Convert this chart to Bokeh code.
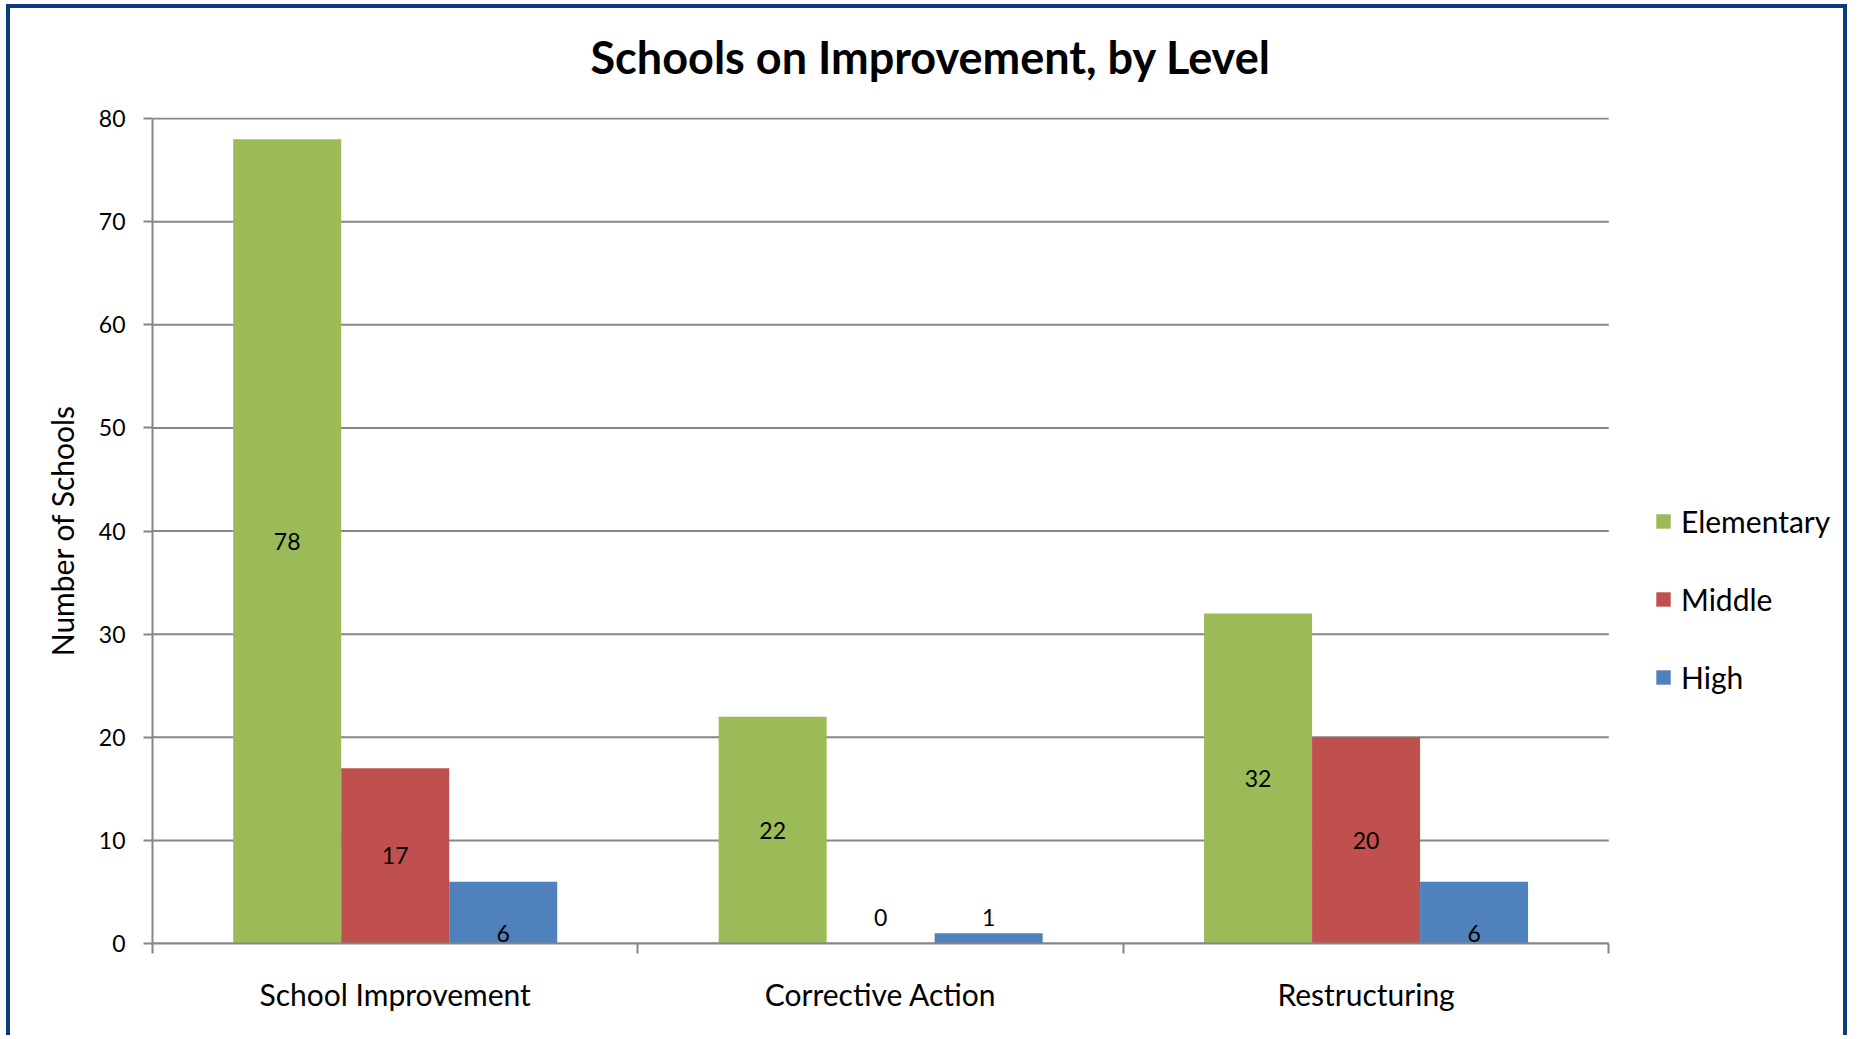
from bokeh.plotting import figure
from bokeh.models import (Range1d, FixedTicker, ColumnDataSource, Legend,
                          LegendItem, Title, LinearAxis)
from bokeh.transform import dodge
from bokeh.core.properties import value
from bokeh.embed import file_html
from bokeh.resources import INLINE

# ---- data ----
categories = ["School Improvement", "Corrective Action", "Restructuring"]
series_names = ["Elementary", "Middle", "High"]
elementary = [78, 22, 32]
middle = [17, 0, 20]
high = [6, 1, 6]
y_ticks = [0, 10, 20, 30, 40, 50, 60, 70, 80]
title_text = "Schools on Improvement, by Level"
y_title = "Number of Schools"

FONT = "Lato"
GRID = "#868686"
colors = {"Elementary": "#9BBB59", "Middle": "#C0504D", "High": "#4F81BD"}

n_cat = len(categories)
x_center = [i + 0.5 for i in range(n_cat)]
x_bounds = [float(i) for i in range(n_cat + 1)]
y_axis_max = y_ticks[-1]


def center_label(v):
    return max(v / 2.0, 2.5)


def base_label(v):
    return 1.0 if v >= 3 else 2.5


src = ColumnDataSource(dict(
    xc=x_center,
    Elementary=elementary,
    Middle=middle,
    High=high,
    Elementary_txt=[str(v) for v in elementary],
    Middle_txt=[str(v) for v in middle],
    High_txt=[str(v) for v in high],
    Elementary_ly=[center_label(v) for v in elementary],
    Middle_ly=[center_label(v) for v in middle],
    High_ly=[base_label(v) for v in high],
))
grid_src = ColumnDataSource(dict(y=y_ticks, x0=[0] * len(y_ticks),
                                 x1=[n_cat] * len(y_ticks)))

# frame spans to the right edge so the legend is inside it
p = figure(width=1841, height=1031, output_backend="svg", toolbar_location=None,
           x_range=Range1d(0, 3.5), y_range=Range1d(0, y_axis_max + 0.1),
           min_border_left=142, min_border_right=0,
           min_border_top=109, min_border_bottom=96,
           background_fill_color="white", border_fill_color="white")
p.title = None
p.outline_line_color = None
p.xgrid.grid_line_color = None
p.ygrid.grid_line_color = None

# horizontal gridlines across the category area only
p.segment(x0="x0", x1="x1", y0="y", y1="y", source=grid_src,
          line_color=GRID, line_width=2)

bw = 0.2225
offsets = {"Elementary": -bw, "Middle": 0.0, "High": bw}
renderers = {}
for s in series_names:
    r = p.vbar(x=dodge("xc", offsets[s], range=p.x_range), top=s, width=bw,
               bottom=0, source=src, fill_color=colors[s], line_color=None)
    renderers[s] = r
    p.text(x=dodge("xc", offsets[s], range=p.x_range), y=s + "_ly",
           text=s + "_txt", source=src, text_align="center",
           text_baseline="middle", text_font=value(FONT),
           text_font_size="23px", text_color="black")

# axes
xa = p.xaxis[0]
xa.bounds = (0, n_cat)
xa.ticker = FixedTicker(ticks=x_center, minor_ticks=x_bounds)
xa.major_label_overrides = {x_center[i]: categories[i] for i in range(n_cat)}
xa.major_tick_out = 0
xa.major_tick_in = 0
xa.minor_tick_out = 10
xa.minor_tick_in = 0
xa.minor_tick_line_color = GRID
xa.minor_tick_line_width = 2
xa.axis_line_color = GRID
xa.axis_line_width = 2
xa.major_label_text_font = FONT
xa.major_label_text_font_size = "30px"
xa.major_label_text_color = "black"
xa.major_label_standoff = 22

ya = p.yaxis[0]
ya.bounds = (0, y_axis_max)
ya.ticker = FixedTicker(ticks=y_ticks)
ya.major_tick_out = 9
ya.major_tick_in = 0
ya.minor_tick_line_color = None
ya.major_tick_line_color = GRID
ya.major_tick_line_width = 2
ya.axis_line_color = GRID
ya.axis_line_width = 2
ya.major_label_text_font = FONT
ya.major_label_text_font_size = "23px"
ya.major_label_text_color = "black"
ya.major_label_standoff = 18
ya.axis_label = y_title
ya.axis_label_text_font = FONT
ya.axis_label_text_font_size = "30px"
ya.axis_label_text_font_style = "normal"
ya.axis_label_text_color = "black"
ya.axis_label_standoff = 16

# invisible spacer between the frame and the title (inner "above" panel)
spacer = LinearAxis(ticker=FixedTicker(ticks=[1.5]), major_tick_out=33,
                    major_tick_in=0, minor_tick_out=0, minor_tick_in=0,
                    axis_line_color=None, major_tick_line_color=None,
                    minor_tick_line_color=None, major_label_standoff=0,
                    major_label_overrides={1.5: ""},
                    major_label_text_alpha=0,
                    major_label_text_font_size="1px")
p.add_layout(spacer, "above")

# title (outer "above" panel)
p.add_layout(Title(text=title_text, align="left", vertical_align="middle",
                   text_font=FONT, text_font_size="45px",
                   text_font_style="bold", text_color="black",
                   standoff=0, offset=438), "above")

# legend
legend = Legend(items=[LegendItem(label=s, renderers=[renderers[s]]) for s in series_names],
                location=(1502, 248), orientation="vertical",
                glyph_width=18, glyph_height=18, label_standoff=9,
                spacing=42, padding=0, margin=0,
                label_text_font=FONT, label_text_font_size="30px",
                label_text_color="black",
                border_line_color=None, background_fill_alpha=0)
p.add_layout(legend, "center")

p.styles = {"border-left": "4px solid #0B3D7C",
            "border-top": "4px solid #0B3D7C",
            "border-right": "4px solid #0B3D7C",
            "margin-left": "6px", "margin-top": "4px"}

open("out.html", "w").write(file_html(p, INLINE))
